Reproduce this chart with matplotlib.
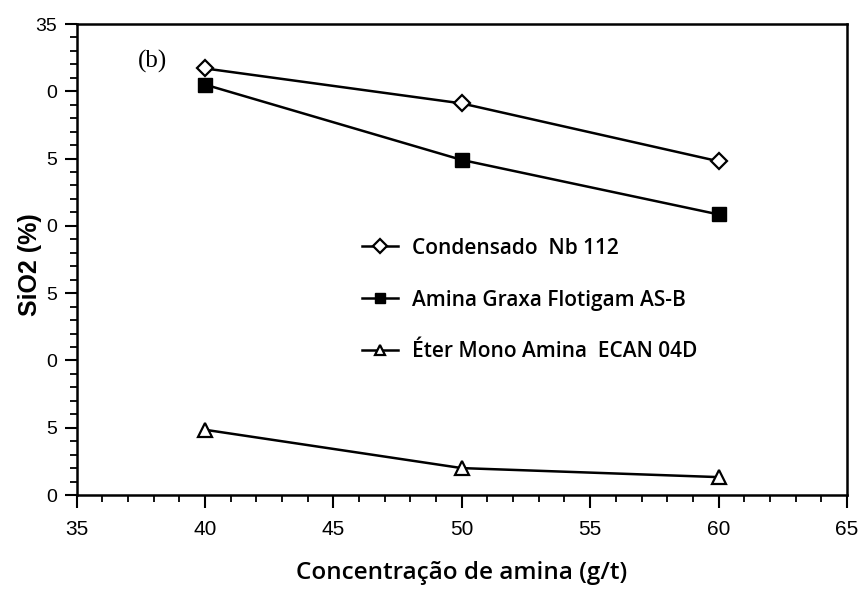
import matplotlib
matplotlib.use("Agg")
import matplotlib.pyplot as plt
from matplotlib.ticker import MultipleLocator, FixedLocator, FixedFormatter

conc = [40, 50, 60]
condensado = [31.7, 29.1, 24.8]
amina_graxa = [30.5, 24.9, 20.85]
eter_mono = [4.85, 2.0, 1.33]

labels = ["Condensado  Nb 112", "Amina Graxa Flotigam AS-B", "Éter Mono Amina  ECAN 04D"]
yticks = [0, 5, 10, 15, 20, 25, 30, 35]
ytick_labels = ["0", "5", "0", "5", "0", "5", "0", "35"]
xticks = [35, 40, 45, 50, 55, 60, 65]

fig = plt.figure(figsize=(8.61, 5.90), dpi=100)
ax = fig.add_axes([0.0889, 0.161, 0.8948, 0.7983])

lw = 1.8
ax.plot(conc, condensado, color="black", lw=lw, marker="D", ms=8, mfc="white",
        mec="black", mew=1.6, label=labels[0])
ax.plot(conc, amina_graxa, color="black", lw=lw, marker="s", ms=9.5, mfc="black",
        mec="black", label=labels[1])
ax.plot(conc, eter_mono, color="black", lw=lw, marker="^", ms=10, mfc="white",
        mec="black", mew=1.6, label=labels[2])

ax.set_xlim(35, 65)
ax.set_ylim(0, 35)
ax.xaxis.set_major_locator(FixedLocator(xticks))
ax.xaxis.set_minor_locator(MultipleLocator(1))
ax.yaxis.set_major_locator(FixedLocator(yticks))
ax.yaxis.set_major_formatter(FixedFormatter(ytick_labels))
ax.yaxis.set_minor_locator(MultipleLocator(1))

for s in ax.spines.values():
    s.set_linewidth(1.8)

ax.tick_params(axis="both", which="major", direction="out", length=9, width=1.5, pad=5)
ax.tick_params(axis="both", which="minor", direction="out", length=5, width=1.3)
ax.tick_params(axis="y", labelsize=14)
ax.tick_params(axis="x", labelsize=15, pad=9)
for lab in ax.get_xticklabels() + ax.get_yticklabels():
    lab.set_fontfamily("Liberation Sans")

ax.set_xlabel("Concentração de amina (g/t)", fontfamily="Open Sans", fontsize=17.5,
              fontweight="semibold")
ax.xaxis.set_label_coords(0.5, -0.166)
ax.xaxis.label.set_va("center")
ax.set_ylabel("SiO2 (%)", fontfamily="Liberation Sans", fontsize=18,
              fontweight="bold")
ax.yaxis.set_label_coords(-0.045, 0.49)

ax.text(0.08, 0.921, "(b)", transform=ax.transAxes, fontfamily="Liberation Serif",
        fontsize=18, ha="left", va="center")

leg = ax.legend(loc="upper left", bbox_to_anchor=(0.36, 0.564), frameon=False,
                handlelength=1.7, handletextpad=0.7, labelspacing=1.48,
                prop={"family": "Open Sans", "size": 15, "weight": "semibold"},
                borderaxespad=0)
for h in leg.legend_handles:
    h.set_markersize(7.5)

fig.savefig("out.png", dpi=100)
